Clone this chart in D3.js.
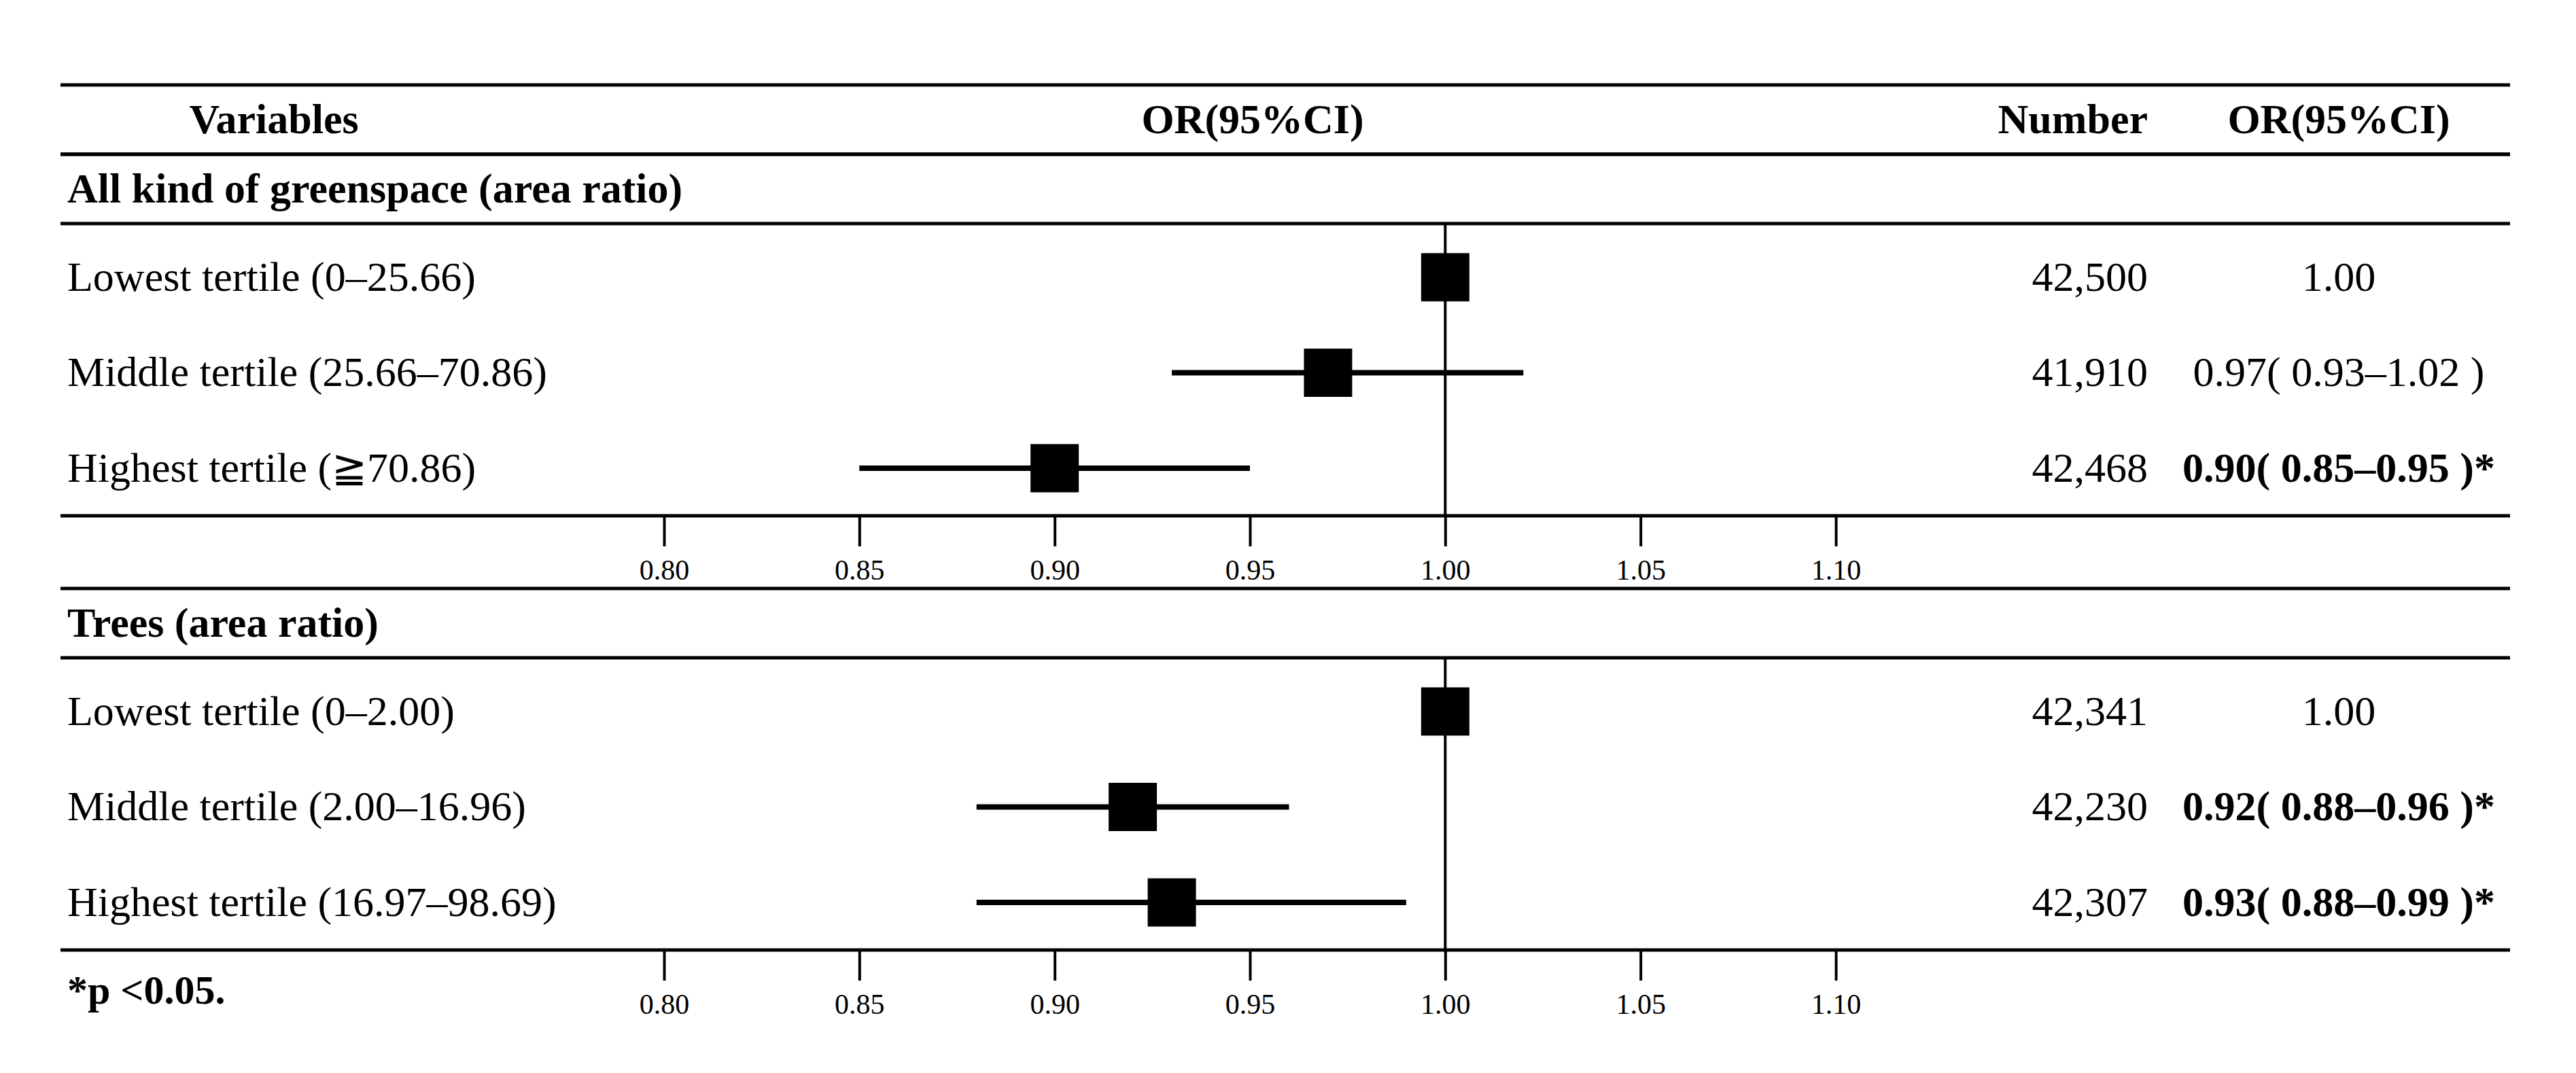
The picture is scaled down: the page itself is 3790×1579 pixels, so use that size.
<!DOCTYPE html>
<html><head><meta charset="utf-8">
<script src="https://cdn.jsdelivr.net/npm/d3@7"></script>
<style>
html,body{margin:0;padding:0;background:#fff;}
svg text{font-family:"Liberation Serif","Times New Roman",serif;fill:#000;}
</style></head>
<body>
<svg id="chart" width="3790" height="1579"></svg>
<script>
// ---- data ----
const groups = ["All kind of greenspace (area ratio)", "Trees (area ratio)"];
const rowLabels = [
  ["Lowest tertile (0\u201325.66)", "Middle tertile (25.66\u201370.86)", "Highest tertile (\u226770.86)"],
  ["Lowest tertile (0\u20132.00)", "Middle tertile (2.00\u201316.96)", "Highest tertile (16.97\u201398.69)"]
];
const orValues = [[1.00, 0.97, 0.90], [1.00, 0.92, 0.93]];
const ciLower  = [[1.00, 0.93, 0.85], [1.00, 0.88, 0.88]];
const ciUpper  = [[1.00, 1.02, 0.95], [1.00, 0.96, 0.99]];
const numbers  = [["42,500", "41,910", "42,468"], ["42,341", "42,230", "42,307"]];
const orText   = [["1.00", "0.97( 0.93\u20131.02 )", "0.90( 0.85\u20130.95 )*"],
                  ["1.00", "0.92( 0.88\u20130.96 )*", "0.93( 0.88\u20130.99 )*"]];
const significant = [[false, false, true], [false, true, true]];
const tickValues = [0.80, 0.85, 0.90, 0.95, 1.00, 1.05, 1.10];
const tickLabels = ["0.80", "0.85", "0.90", "0.95", "1.00", "1.05", "1.10"];
const headers = ["Variables", "OR(95%CI)", "Number", "OR(95%CI)"];
const footnote = "*p <0.05.";

// ---- layout ----
const svg = d3.select("#chart");
const left = 89, right = 3693;
const fs = 62;
const x = d3.scaleLinear().domain([0.80, 1.10]).range([977, 2701]);
const panelTop = [329, 968];           // rule under group header
const rowY = d3.scaleLinear().domain([0, 2]).range([79, 360]);
const axisOffset = 430;
const sq = 71;

function rule(y){
  svg.append("line").attr("x1", left).attr("x2", right).attr("y1", y).attr("y2", y)
    .attr("stroke", "#000").attr("stroke-width", 5);
}

// header
rule(125); rule(227);
const hy = 176;
svg.append("text").attr("x", 403).attr("y", hy).attr("dy", "0.33em").attr("text-anchor", "middle")
  .attr("font-weight", "bold").attr("font-size", fs).text(headers[0]);
svg.append("text").attr("x", 1843).attr("y", hy).attr("dy", "0.33em").attr("text-anchor", "middle")
  .attr("font-weight", "bold").attr("font-size", fs).text(headers[1]);
svg.append("text").attr("x", 3160).attr("y", hy).attr("dy", "0.33em").attr("text-anchor", "end")
  .attr("font-weight", "bold").attr("font-size", fs).text(headers[2]);
svg.append("text").attr("x", 3441).attr("y", hy).attr("dy", "0.33em").attr("text-anchor", "middle")
  .attr("font-weight", "bold").attr("font-size", fs).text(headers[3]);

groups.forEach((g, gi) => {
  const top = panelTop[gi];
  // group header
  svg.append("text").attr("x", 99).attr("y", top - 51).attr("dy", "0.33em")
    .attr("font-weight", "bold").attr("font-size", fs).text(g);
  rule(top - 102);
  rule(top);
  const axisY = top + axisOffset;

  // reference line at OR = 1
  svg.append("line").attr("x1", x(1)).attr("x2", x(1)).attr("y1", top).attr("y2", axisY)
    .attr("stroke", "#000").attr("stroke-width", 4);

  // axis
  const axis = d3.axisBottom(x).tickValues(tickValues).tickSize(45).tickSizeOuter(0)
    .tickFormat((d, i) => tickLabels[i]);
  const ag = svg.append("g").attr("transform", `translate(0,${axisY})`).call(axis);
  ag.select(".domain").remove();
  ag.selectAll(".tick line").attr("stroke", "#000").attr("stroke-width", 4);
  ag.selectAll(".tick text").attr("font-size", 42).attr("font-family", "Liberation Serif, serif")
    .attr("fill", "#000").attr("y", 64).attr("dy", "0.71em");
  rule(axisY);

  const rows = d3.range(3).map(i => ({
    label: rowLabels[gi][i], or: orValues[gi][i], lo: ciLower[gi][i], hi: ciUpper[gi][i],
    n: numbers[gi][i], t: orText[gi][i], sig: significant[gi][i], y: top + rowY(i)
  }));

  const rg = svg.append("g");
  rg.selectAll("text.lab").data(rows).join("text").attr("class", "lab")
    .attr("x", 99).attr("y", d => d.y).attr("dy", "0.32em").attr("font-size", fs).text(d => d.label);
  rg.selectAll("line.ci").data(rows.filter(d => d.hi > d.lo)).join("line").attr("class", "ci")
    .attr("x1", d => x(d.lo)).attr("x2", d => x(d.hi)).attr("y1", d => d.y).attr("y2", d => d.y)
    .attr("stroke", "#000").attr("stroke-width", 8);
  rg.selectAll("rect.pt").data(rows).join("rect").attr("class", "pt")
    .attr("x", d => x(d.or) - sq / 2).attr("y", d => d.y - sq / 2).attr("width", sq).attr("height", sq)
    .attr("fill", "#000");
  rg.selectAll("text.num").data(rows).join("text").attr("class", "num")
    .attr("x", 3160).attr("y", d => d.y).attr("dy", "0.32em").attr("text-anchor", "end")
    .attr("font-size", fs).text(d => d.n);
  rg.selectAll("text.ort").data(rows).join("text").attr("class", "ort")
    .attr("x", 3441).attr("y", d => d.y).attr("dy", "0.32em").attr("text-anchor", "middle")
    .attr("font-size", fs).attr("font-weight", d => d.sig ? "bold" : "normal").text(d => d.t);
});

svg.append("text").attr("x", 99).attr("y", 1477).attr("font-weight", "bold").attr("font-size", 60).text(footnote);
</script>
</body></html>
